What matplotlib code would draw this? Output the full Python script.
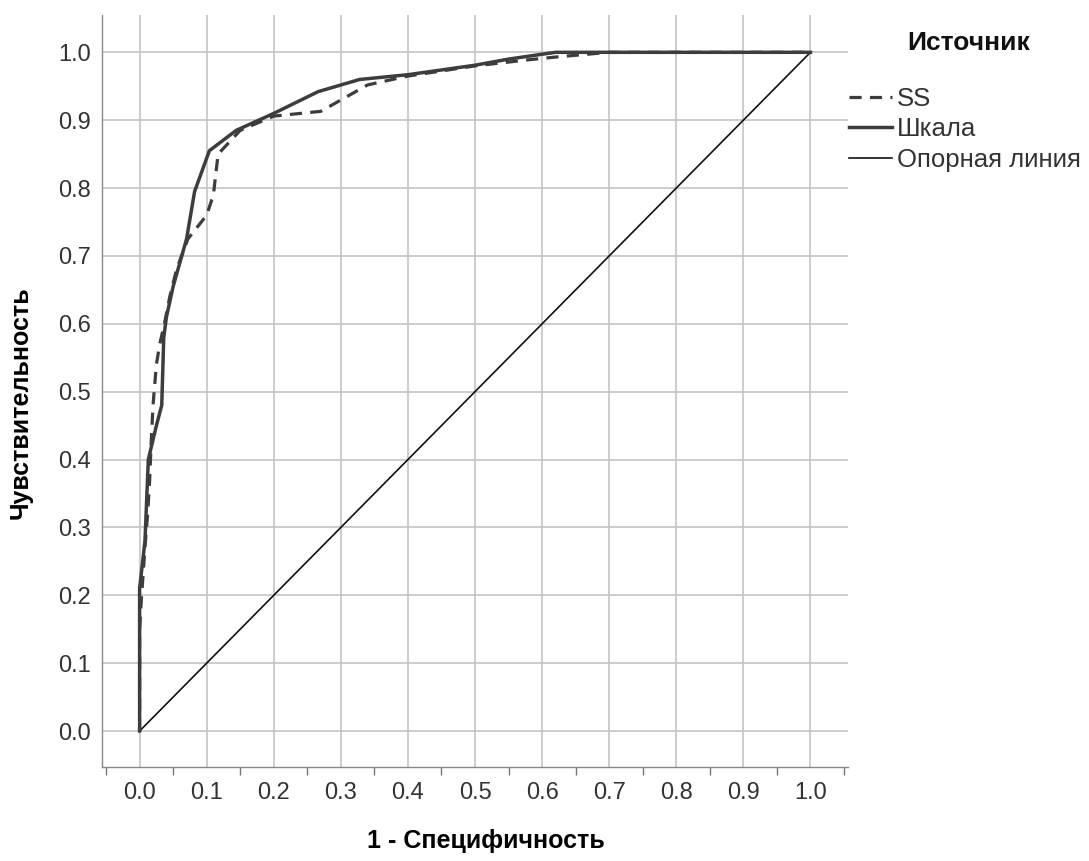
import matplotlib
matplotlib.use('Agg')
import matplotlib.pyplot as plt
import numpy as np

# Datos (curvas ROC)
ss_x = [0.0, 0.0, 0.003, 0.008, 0.012, 0.015, 0.017, 0.02, 0.025, 0.03, 0.037, 0.045, 0.055,
        0.072, 0.1, 0.11, 0.117, 0.15, 0.2, 0.27, 0.34, 0.4, 0.5, 0.58, 0.62, 0.7, 1.0]
ss_y = [0.0, 0.15, 0.2, 0.27, 0.32, 0.37, 0.42, 0.48, 0.54, 0.57, 0.60, 0.64, 0.68,
        0.725, 0.76, 0.79, 0.85, 0.885, 0.906, 0.913, 0.952, 0.965, 0.98, 0.989, 0.993, 1.0, 1.0]

escala_x = [0.0, 0.0, 0.008, 0.013, 0.025, 0.033, 0.036, 0.04, 0.05, 0.07, 0.082, 0.104,
            0.144, 0.2, 0.266, 0.328, 0.4, 0.5, 0.55, 0.62, 1.0]
escala_y = [0.0, 0.21, 0.28, 0.40, 0.45, 0.48, 0.58, 0.61, 0.655, 0.725, 0.795, 0.855,
            0.885, 0.91, 0.942, 0.96, 0.967, 0.981, 0.99, 1.0, 1.0]

ref_x = [0.0, 1.0]
ref_y = [0.0, 1.0]

nombres = ['SS', 'Шкала', 'Опорная линия']
ticks = [0.0, 0.1, 0.2, 0.3, 0.4, 0.5, 0.6, 0.7, 0.8, 0.9, 1.0]

plt.rcParams['font.family'] = ['Liberation Sans', 'DejaVu Sans']

fig = plt.figure(figsize=(10.89, 8.61), dpi=100)
ax = fig.add_axes([0.0937, 0.1092, 0.685, 0.8734])

gris = '#3d3d3d'
ax.plot(ss_x, ss_y, color=gris, lw=2.3, ls=(0, (3.8, 2.6)), label=nombres[0], zorder=3)
ax.plot(escala_x, escala_y, color=gris, lw=2.5, label=nombres[1], zorder=4)
ax.plot(ref_x, ref_y, color='#111111', lw=1.2, label=nombres[2], zorder=3)

ax.set_xlim(-0.056, 1.056)
ax.set_ylim(-0.053, 1.055)

ax.set_xticks(ticks)
ax.set_yticks(ticks)
ax.set_xticklabels([f'{t:.1f}' for t in ticks])
ax.set_yticklabels([f'{t:.1f}' for t in ticks])
ax.set_xticks(np.arange(-0.05, 1.06, 0.1), minor=True)

ax.grid(True, which='major', color='#c4c4c4', lw=1.2, zorder=1)
ax.tick_params(axis='x', which='major', length=0, pad=11, labelsize=17, labelcolor='#333333')
ax.tick_params(axis='x', which='minor', length=6, width=1, color='#777777', direction='out')
ax.tick_params(axis='y', which='major', length=0, pad=8, labelsize=17, labelcolor='#333333')

for s in ['top', 'right']:
    ax.spines[s].set_visible(False)
for s in ['left', 'bottom']:
    ax.spines[s].set_color('#888888')
    ax.spines[s].set_linewidth(1.0)

ax.set_xlabel('1 - Специфичность', fontsize=18, fontweight='bold', labelpad=18)
ax.xaxis.label.set_x(0.515)
ax.set_ylabel('Чувствительность', fontsize=18, fontweight='bold', labelpad=18)
ax.yaxis.label.set_y(0.485)

# leyenda sin titulo, el titulo va aparte para dejar mas espacio
leg = ax.legend(loc='upper left', bbox_to_anchor=(0.988, 0.918), frameon=False,
                fontsize=18.5, handlelength=1.65, handletextpad=0.2, labelspacing=0.25,
                borderaxespad=0)
for t in leg.get_texts():
    t.set_color('#333333')
fig.text(969 / 1089, 1 - 43 / 861, 'Источник', fontsize=19, fontweight='bold',
         ha='center', va='center', color='#111111')

fig.savefig('out.png', dpi=100)
